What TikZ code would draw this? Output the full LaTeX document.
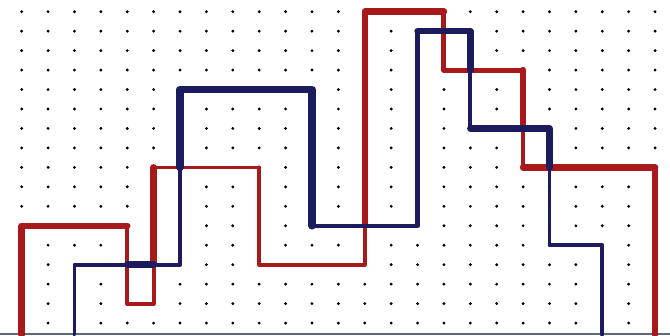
\documentclass[tikz,border=0pt]{standalone}
\definecolor{pred}{HTML}{A8191B}
\definecolor{pblue}{HTML}{1B1B5E}
\definecolor{edge}{HTML}{5B6B7A}
\tikzset{
  redline/.style={draw=pred,line join=round,line cap=round},
  blueline/.style={draw=pblue,line join=round,line cap=round},
}
\begin{document}
\begin{tikzpicture}[x=26.39pt,y=-19.46pt]
\useasboundingbox (-0.822,-0.601) rectangle (24.566,16.614);
\fill[white] (-0.822,-0.601) rectangle (24.566,16.614);
% dot grid
\foreach \c in {0,...,24}{
  \foreach \r in {0,...,16}{
    \fill[black] (\c,\r) circle (1.6pt);
  }
}
% bottom edge
\fill[edge] (-0.822,16.5) rectangle (24.566,16.614);
% red line
\draw[redline,line width=6.5pt] (0,16.6) -- (0,11) -- (4,11);
\draw[redline,line width=3.8pt] (4,11) -- (4,15) -- (5,15) -- (5,13);
\draw[redline,line width=6.5pt] (5,13) -- (5,8);
\draw[redline,line width=3.2pt] (5,8) -- (9,8);
\draw[redline,line width=3.8pt] (9,8) -- (9,13) -- (13,13) -- (13,11);
\draw[redline,line width=6.5pt] (13,11) -- (13,0) -- (16,0);
\draw[redline,line width=5pt] (16,0) -- (16,3) -- (19,3);
\draw[redline,line width=6.5pt] (19,3) -- (19,6);
\draw[redline,line width=3.8pt] (19,6) -- (19,8);
\draw[redline,line width=6.5pt] (19,8) -- (24,8);
\draw[redline,line width=5.8pt] (24,8) -- (24,16.6);
% blue line
\draw[blueline,line width=3.8pt] (2,16.6) -- (2,13) -- (4,13);
\draw[blueline,line width=6.5pt] (4,13) -- (5,13);
\draw[blueline,line width=3.8pt] (5,13) -- (6,13) -- (6,8);
\draw[blueline,line width=7.5pt] (6,8) -- (6,4) -- (11,4) -- (11,11);
\draw[blueline,line width=4.5pt] (11,11) -- (15,11) -- (15,1);
\draw[blueline,line width=6.5pt] (15,1) -- (17,1) -- (17,3);
\draw[blueline,line width=3.8pt] (17,3) -- (17,6);
\draw[blueline,line width=6.5pt] (17,6) -- (20,6) -- (20,8);
\draw[blueline,line width=3.8pt] (20,8) -- (20,12) -- (22,12) -- (22,16.6);
\end{tikzpicture}
\end{document}
